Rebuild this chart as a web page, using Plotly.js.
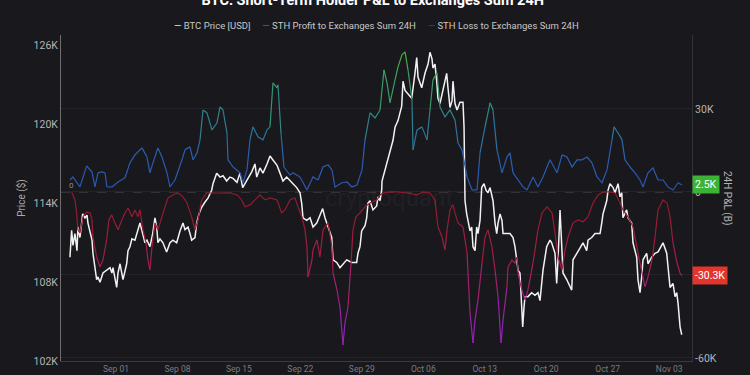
<!DOCTYPE html>
<html>
<head>
<meta charset="utf-8">
<script src="https://cdn.plot.ly/plotly-3.0.1.min.js"></script>
<style>
html,body{margin:0;padding:0;background:#19181d;}
#chart{width:750px;height:375px;}
</style>
</head>
<body>
<div id="chart"></div>
<script>
// Time values are days since 2025-09-01 00:00 UTC; values in thousands.
const btcPriceK = [
[-5.24,109.9],[-5.05,111.95],[-4.90,110.8],[-4.67,111.7],[-4.44,110.4],[-4.33,112.2],[-4.10,111.4],[-3.79,113.2],[-3.53,112.9],[-3.30,113.1],
[-3.19,112.5],[-2.96,111.7],[-2.73,111.2],[-2.62,110.2],[-2.39,108.9],[-2.20,108.2],[-2.05,108.4],[-1.82,108.0],[-1.48,108.7],[-1.06,108.9],
[-0.68,109.1],[-0.46,108.7],[-0.34,109.1],[0.08,107.6],[0.23,108.7],[0.46,109.4],[0.68,108.7],[0.80,108.2],[1.22,109.4],[1.37,110.4],
[1.59,110.7],[1.82,111.3],[2.16,111.2],[2.39,111.7],[2.73,112.5],[3.04,111.7],[3.30,111.0],[3.53,111.2],[3.87,110.7],[4.18,111.7],
[4.44,112.9],[4.64,112.2],[4.78,111.0],[5.01,111.3],[5.35,111.0],[5.77,110.3],[6.15,111.0],[6.49,111.2],[6.91,111.0],[7.29,111.9],
[7.63,112.5],[7.86,112.0],[8.20,112.2],[8.43,111.7],[8.62,111.2],[9.00,111.4],[9.19,112.5],[9.45,113.2],[9.76,113.7],[10.14,114.1],
[10.48,114.4],[10.90,115.0],[11.05,115.5],[11.47,116.3],[11.85,116.0],[12.19,116.1],[12.61,115.7],[12.98,116.0],[13.33,115.9],[13.78,115.6],
[14.12,116.3],[14.43,115.2],[14.69,115.5],[15.03,116.0],[15.46,116.4],[15.83,117.0],[16.03,116.0],[16.40,116.7],[16.74,116.3],[17.20,117.0],
[17.54,117.6],[17.88,117.3],[18.34,116.9],[18.68,116.3],[19.02,115.7],[19.44,116.0],[19.82,115.7],[20.16,115.5],[20.58,115.2],[20.96,114.8],
[21.15,114.0],[21.30,112.9],[21.72,112.7],[22.10,112.9],[22.44,112.2],[22.86,112.5],[23.23,113.1],[23.54,113.6],[23.80,112.9],[24.15,112.2],
[24.57,111.4],[24.72,109.7],[25.14,109.5],[25.51,109.1],[25.85,109.4],[26.28,109.7],[26.84,109.5],[27.41,109.5],[27.56,110.2],[27.79,110.7],
[27.98,111.9],[28.36,112.3],[28.55,112.9],[28.70,114.0],[28.93,114.2],[29.27,113.5],[29.69,113.8],[29.84,114.5],[30.07,114.2],[30.26,115.0],
[30.30,115.7],[30.83,117.0],[31.21,118.0],[31.55,118.8],[31.78,119.8],[32.12,120.3],[32.54,121.4],[32.69,123.3],[32.92,122.6],[33.26,122.3],
[33.68,122.0],[34.05,123.9],[34.25,125.1],[34.40,123.6],[34.82,122.8],[35.19,123.9],[35.54,124.6],[35.76,125.5],[35.99,125.0],[36.10,124.3],
[36.33,124.6],[36.53,123.3],[36.67,122.0],[36.90,121.6],[37.24,122.6],[37.66,123.9],[37.81,122.8],[38.04,121.3],[38.27,121.8],[38.38,123.3],
[38.61,121.6],[38.84,121.1],[39.18,121.7],[39.52,121.7],[39.64,119.8],[39.75,114.2],[39.94,113.2],[40.09,112.7],[40.32,111.9],[40.51,112.2],
[40.66,110.7],[40.89,110.4],[41.08,112.2],[41.23,111.7],[41.46,112.7],[41.65,115.2],[41.91,115.5],[42.14,115.0],[42.37,114.8],[42.60,115.2],
[42.94,114.2],[43.17,112.5],[43.36,111.7],[43.51,112.5],[43.74,113.2],[43.96,112.7],[44.08,111.7],[44.31,111.7],[44.87,111.7],[45.22,111.4],
[45.44,110.7],[45.64,109.7],[45.79,108.9],[46.01,108.7],[46.21,106.6],[46.32,104.6],[46.47,106.1],[46.58,106.9],[46.92,106.9],[47.34,107.2],
[47.72,107.0],[48.06,107.2],[48.29,106.6],[48.48,108.2],[48.63,108.9],[49.05,110.7],[49.43,111.2],[49.62,111.0],[50.00,110.2],[50.19,107.9],
[50.34,109.7],[50.57,113.5],[50.76,111.2],[50.91,108.7],[51.33,108.2],[51.71,107.6],[51.90,107.4],[52.05,109.7],[52.47,110.2],[52.85,110.7],
[53.19,111.0],[53.61,110.4],[53.76,111.2],[54.18,111.4],[54.56,111.7],[54.90,111.7],[55.13,111.7],[55.32,112.5],[55.47,113.2],[55.89,114.2],
[56.04,115.0],[56.26,115.5],[56.61,115.2],[56.83,114.8],[57.18,115.5],[57.40,114.5],[57.60,114.8],[57.74,112.9],[58.16,113.5],[58.31,112.9],
[58.73,112.5],[58.88,111.0],[59.30,109.9],[59.45,108.2],[59.68,107.2],[59.87,108.4],[60.02,109.7],[60.44,110.2],[60.59,109.4],[61.01,109.9],
[61.39,110.2],[61.73,110.3],[62.30,111.0],[62.72,110.2],[62.87,109.1],[63.10,107.6],[63.44,107.9],[63.67,106.9],[63.86,107.2],[64.01,106.4],
[64.24,104.6],[64.43,104.0]
];

const sthProfitK = [
[-5.24,4.3],[-4.90,5.4],[-4.10,1.8],[-3.34,9.4],[-2.73,7.2],[-2.39,1.8],[-2.05,6.9],[-1.59,7.2],[-1.25,6.9],[-1.03,1.8],
[-0.46,1.8],[0.23,3.6],[1.03,5.1],[1.59,10.5],[2.16,13.4],[2.96,15.9],[3.53,12.6],[3.87,6.9],[4.21,10.5],[4.78,15.9],
[5.24,12.6],[5.81,6.9],[6.15,1.8],[6.72,4.3],[7.52,11.6],[7.86,15.2],[8.43,16.3],[8.77,11.6],[9.23,14.1],[9.57,18.8],
[9.91,29.6],[10.36,28.6],[10.93,22.4],[11.50,24.9],[11.85,30.7],[12.19,29.6],[12.64,21.3],[12.76,11.6],[13.33,9.0],[14.12,6.9],
[14.46,3.3],[14.92,8.0],[15.26,18.8],[15.60,23.5],[16.17,19.9],[16.74,18.8],[17.20,22.4],[17.54,23.5],[17.88,39.4],[18.34,37.6],
[18.45,38.7],[18.79,21.3],[19.13,9.0],[19.82,6.1],[20.16,6.9],[20.96,5.4],[21.75,0.7],[22.44,5.4],[23.01,4.3],[23.58,9.0],
[24.15,9.8],[24.60,8.0],[24.94,1.8],[25.74,3.3],[26.31,3.6],[26.88,1.8],[27.45,2.5],[28.02,8.0],[28.36,18.8],[28.93,28.6],
[29.50,26.7],[30.07,29.6],[30.52,44.1],[30.87,39.4],[31.21,32.2],[31.78,40.5],[32.12,45.2],[32.57,49.5],[32.92,50.6],[33.26,44.1],
[33.71,33.2],[33.83,15.2],[34.28,22.4],[34.85,23.5],[35.42,18.8],[35.76,29.6],[36.10,40.5],[36.56,43.0],[36.90,30.7],[37.47,27.1],
[38.04,29.6],[38.61,26.0],[38.95,17.7],[39.41,15.2],[39.98,5.4],[40.55,0.7],[41.12,0.7],[41.46,14.1],[42.03,23.5],[42.60,32.2],
[42.94,29.6],[43.39,15.2],[43.96,6.9],[44.53,12.6],[44.87,14.1],[45.22,6.9],[45.79,4.3],[46.36,1.8],[46.81,0.7],[47.49,5.4],
[48.06,1.8],[48.63,5.4],[49.43,11.6],[50.23,6.9],[50.80,13.4],[51.37,12.6],[51.94,9.0],[52.51,11.6],[53.08,11.6],[53.64,12.6],
[54.21,10.5],[54.78,5.4],[55.35,3.3],[55.92,8.0],[56.49,18.8],[56.72,23.5],[57.18,21.3],[57.63,18.8],[57.97,11.6],[58.54,9.0],
[59.11,6.9],[59.68,4.3],[60.02,1.8],[60.59,6.9],[61.16,8.7],[61.73,4.3],[62.30,4.3],[62.87,1.8],[63.44,0.7],[64.01,3.3],
[64.46,2.5]
];

const sthLossK = [
[-5.05,0],[-4.67,-2.9],[-4.48,-7.6],[-4.33,-13.7],[-4.10,-14.8],[-3.76,-9.0],[-3.34,-7.2],[-2.96,-7.6],[-2.73,-10.1],[-2.62,-16.3],
[-2.20,-23.5],[-1.82,-27.1],[-1.48,-24.6],[-1.06,-17.3],[-0.80,-10.1],[-0.49,-8.3],[-0.11,-11.2],[0.23,-13.7],[0.68,-10.1],[1.03,-7.6],
[1.37,-5.8],[1.82,-9.0],[2.16,-6.5],[2.51,-9.0],[2.73,-6.5],[3.08,-13.7],[3.42,-18.4],[3.64,-24.6],[3.87,-28.2],[4.10,-19.9],
[4.44,-11.2],[4.78,-13.7],[5.20,-9.0],[5.58,-5.4],[5.92,-2.2],[6.49,-1.1],[7.06,-0.4],[7.63,-1.8],[8.09,-4.0],[8.62,-9.0],
[9.00,-13.7],[9.34,-10.1],[9.76,-2.9],[10.33,-0.4],[11.05,-0.4],[12.19,-0.4],[12.98,-0.4],[13.78,-1.1],[14.32,-2.9],[14.69,-5.4],
[15.26,-4.7],[15.83,-2.9],[16.40,-1.1],[16.97,-2.9],[17.54,-2.2],[18.34,-2.9],[18.87,-7.6],[19.25,-6.5],[19.82,-2.9],[20.39,-2.2],
[20.73,-5.4],[21.18,-9.0],[21.53,-13.7],[21.75,-19.9],[21.87,-30.7],[22.32,-24.6],[22.44,-21.0],[22.89,-17.3],[23.23,-23.5],[23.58,-13.7],
[24.15,-11.2],[24.60,-19.9],[24.72,-29.3],[25.17,-35.4],[25.51,-41.6],[25.85,-55.3],[26.08,-47.3],[26.42,-41.6],[26.77,-25.7],[26.99,-13.7],
[27.33,-9.0],[27.79,-7.6],[28.36,-5.4],[28.93,-4.0],[29.73,-2.9],[30.07,-1.1],[30.41,-0.4],[31.21,0],[32.00,0],[33.14,-0.4],
[34.28,-1.1],[34.97,0],[35.76,-0.4],[36.33,-2.9],[36.67,-12.6],[37.13,-16.3],[37.47,-21.0],[37.70,-13.7],[38.04,-6.5],[38.38,-4.7],
[38.61,-7.6],[38.95,-11.2],[39.52,-12.6],[39.98,-22.0],[40.32,-43.7],[40.66,-54.6],[40.89,-46.3],[41.23,-39.0],[41.69,-25.7],[42.03,-16.3],
[42.37,-13.7],[42.82,-19.9],[43.17,-28.2],[43.51,-37.9],[43.85,-54.6],[44.08,-46.3],[44.53,-34.3],[44.65,-27.1],[45.10,-24.6],[45.44,-25.7],
[45.67,-23.5],[45.79,-29.3],[46.13,-34.3],[46.58,-39.0],[46.92,-35.4],[47.49,-25.7],[48.06,-13.7],[48.52,-7.6],[49.09,-5.4],[49.66,-7.6],
[50.00,-14.8],[50.34,-23.5],[50.80,-28.2],[51.14,-21.0],[51.48,-16.3],[52.05,-11.2],[52.62,-10.1],[53.19,-10.8],[53.76,-9.0],[54.33,-4.0],
[54.90,-1.1],[55.47,0],[56.26,0],[56.83,-0.4],[57.40,-4.0],[57.74,-6.5],[58.31,-9.0],[58.88,-12.6],[59.45,-22.0],[59.91,-29.3],
[60.25,-34.3],[60.59,-30.7],[61.05,-24.6],[61.39,-16.3],[61.73,-6.5],[62.30,-2.9],[62.76,-4.0],[63.10,-9.0],[63.44,-18.4],[63.90,-25.7],
[64.24,-29.3],[64.46,-30.3]
];

const priceTickVals = [102000,108000,114000,120000,126000];
const priceTickText = ['102K','108K','114K','120K','126K'];
const pnlTickVals = [-60000,-30000,0,30000];
const pnlTickText = ['-60K','-30K','0','30K'];
const dateTickVals = ['2025-09-01','2025-09-08','2025-09-15','2025-09-22','2025-09-29','2025-10-06','2025-10-13','2025-10-20','2025-10-27','2025-11-03'];
const dateTickText = ['Sep 01','Sep 08','Sep 15','Sep 22','Sep 29','Oct 06','Oct 13','Oct 20','Oct 27','Nov 03'];
const seriesNames = ['BTC Price [USD]','STH Profit to Exchanges Sum 24H','STH Loss to Exchanges Sum 24H'];
const seriesLegendColors = ['#f2f2f2','#2e8b3a','#a82030'];

const FONT = 'Roboto,"Noto Sans",sans-serif';
const BASE = Date.UTC(2025, 8, 1);
const toDate = d => new Date(BASE + d * 864e5).toISOString().slice(0, 16).replace('T', ' ');

function hex(h){return [1,3,5].map(i=>parseInt(h.substr(i,2),16));}
function mix(stops,t){
  for(let i=0;i<stops.length-1;i++){
    const [t0,c0]=stops[i],[t1,c1]=stops[i+1];
    if(t<=t1){const f=(t-t0)/(t1-t0||1);const a=hex(c0),b=hex(c1);
      return 'rgb('+a.map((v,k)=>Math.round(v+(b[k]-v)*f)).join(',')+')';}
  }
  return stops[stops.length-1][1];
}
function gradientTraces(series,yaxis,tFn,stops,levels,width){
  const groups={};
  for(let i=0;i<series.length-1;i++){
    const mid=(series[i][1]+series[i+1][1])/2;
    const q=Math.round(Math.max(0,Math.min(1,tFn(mid)))*(levels-1));
    const g=groups[q]||(groups[q]={x:[],y:[],last:-1});
    if(g.last!==i){
      if(g.x.length){g.x.push(null);g.y.push(null);}
      g.x.push(toDate(series[i][0]));g.y.push(series[i][1]*1000);
    }
    g.x.push(toDate(series[i+1][0]));g.y.push(series[i+1][1]*1000);g.last=i+1;
  }
  return Object.keys(groups).map(q=>({type:'scatter',mode:'lines',x:groups[q].x,y:groups[q].y,yaxis:yaxis,
    line:{color:mix(stops,q/(levels-1)),width:width},connectgaps:false,showlegend:false,hoverinfo:'skip'}));
}

const profitStops=[[0,'#2a55b2'],[0.3,'#2c60b0'],[0.5,'#2e7a98'],[0.7,'#33917a'],[1,'#46ad48']];
const lossStops=[[0,'#8f1b2b'],[0.4,'#a11e40'],[0.6,'#a62062'],[0.8,'#9e2292'],[1,'#8e24ba']];

const traces=[].concat(
  gradientTraces(sthProfitK,'y2',v=>v/45,profitStops,12,1.2),
  gradientTraces(sthLossK,'y2',v=>-v/52,lossStops,12,1.2),
  [{type:'scatter',mode:'lines',name:seriesNames[0],x:btcPriceK.map(p=>toDate(p[0])),y:btcPriceK.map(p=>p[1]*1000),
    yaxis:'y',line:{color:'#f2f2f2',width:1.5},showlegend:false,hoverinfo:'skip'}]
);

const lastProfit=sthProfitK[sthProfitK.length-1];
const lastLoss=sthLossK[sthLossK.length-1];
const fmtK=v=>(Math.round(v*10)/10).toFixed(1)+'K';

const SP='\u00a0\u00a0\u00a0\u00a0\u00a0';
const legendText=seriesNames.map((n,i)=>'<span style="color:'+seriesLegendColors[i]+'">—</span>\u00a0'+n).join(SP);

const annotations=[
  {xref:'paper',yref:'paper',x:(376-61)/631,y:(361-26)/326,xanchor:'center',yanchor:'middle',showarrow:false,
    text:legendText,font:{family:FONT,size:9.5,color:'#c8c8c8'}},
  {xref:'paper',yref:'y2',x:1,y:lastProfit[1]*1000,xanchor:'left',yanchor:'middle',showarrow:false,
    text:fmtK(lastProfit[1]),bgcolor:'#3cb236',borderpad:2,font:{family:FONT,size:10.5,color:'#ffffff'}},
  {xref:'paper',yref:'y2',x:1,y:lastLoss[1]*1000,xanchor:'left',yanchor:'middle',showarrow:false,
    text:fmtK(lastLoss[1]),bgcolor:'#e2352d',borderpad:2,font:{family:FONT,size:10.5,color:'#ffffff'}},
  {xref:'paper',yref:'paper',x:(727-61)/631,y:0.5,xanchor:'center',yanchor:'middle',showarrow:false,textangle:90,
    text:'24H P&L (B)',font:{family:FONT,size:10,color:'#b0b0b0'}},
  {xref:'x',yref:'y2',x:toDate(sthLossK[0][0]),y:0,xanchor:'center',yanchor:'bottom',showarrow:false,
    text:'0',font:{family:FONT,size:8,color:'#8a8a8a'}},
  {xref:'paper',yref:'paper',x:0.52,y:0.5,xanchor:'center',yanchor:'middle',showarrow:false,
    text:'cryptoquant',font:{family:FONT,size:24,color:'rgba(255,255,255,0.05)'}}
];

const layout={
  width:750,height:375,
  paper_bgcolor:'#19181d',plot_bgcolor:'#19181d',
  margin:{l:61,r:58,t:35,b:14},
  showlegend:false,
  font:{family:FONT,color:'#b0b0b0',size:10},
  title:{text:'<b>BTC: Short-Term Holder P&L to Exchanges Sum 24H</b>',x:0.497,xanchor:'center',
    y:1,yref:'container',yanchor:'middle',font:{family:FONT,size:14.5,color:'#ffffff'}},
  xaxis:{type:'date',range:[toDate(-6.26),toDate(65.6)],tickmode:'array',tickvals:dateTickVals,ticktext:dateTickText,
    showgrid:false,zeroline:false,showline:true,linecolor:'#3a3a3e',linewidth:1,ticks:'',
    tickfont:{family:FONT,size:8.5,color:'#7c7c7c'}},
  yaxis:{range:[102000,126815],tickmode:'array',tickvals:priceTickVals,ticktext:priceTickText,
    showgrid:false,zeroline:false,showline:true,linecolor:'#6e6e6e',linewidth:1,ticks:'',
    tickfont:{family:FONT,size:10.5,color:'#b4b4b4'},
    title:{text:'Price ($)',font:{family:FONT,size:10,color:'#a8a8a8'},standoff:6}},
  yaxis2:{overlaying:'y',side:'right',range:[-61100,56700],tickmode:'array',tickvals:pnlTickVals,ticktext:pnlTickText,
    showgrid:true,gridcolor:'#25242a',zeroline:false,showline:true,linecolor:'#333236',linewidth:1,ticks:'',
    tickfont:{family:FONT,size:10.5,color:'#b4b4b4'}},
  shapes:[{type:'line',xref:'paper',x0:0,x1:1,yref:'y2',y0:0,y1:0,layer:'below',
    line:{color:'#5e5a5e',width:1,dash:'dash'}}],
  annotations:annotations
};

Plotly.newPlot('chart',traces,layout,{staticPlot:true,displayModeBar:false});
</script>
</body>
</html>
